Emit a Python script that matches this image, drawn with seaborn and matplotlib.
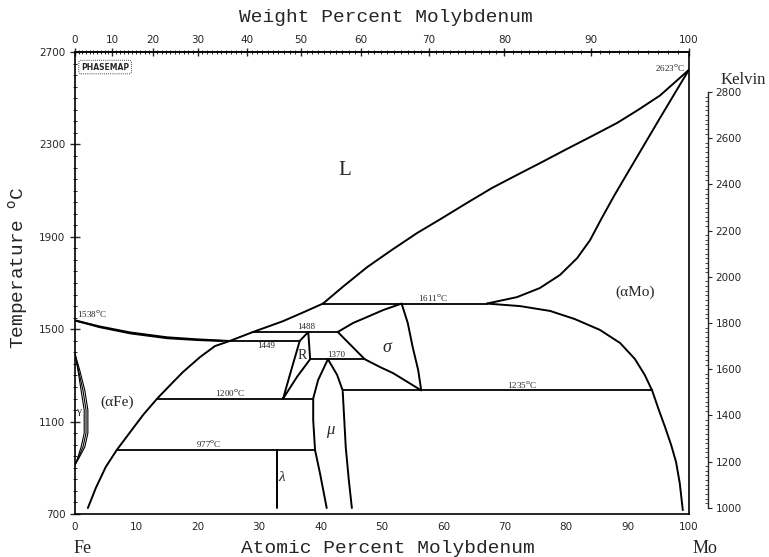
import numpy as np
import matplotlib
matplotlib.use("Agg")
import matplotlib.pyplot as plt
from matplotlib.ticker import MultipleLocator, FixedLocator
import seaborn as sns

# Fe-Mo phase diagram (atomic % Mo, deg C)

# (aFe) boundary that runs on into the liquidus up to 1611
afe_at = [2.1, 3.4, 5.0, 6.8, 9.0, 11.1, 13.4, 15.5, 17.6, 20.4, 22.8, 25.2,
          29.0, 33.9, 37.1, 40.4]
afe_t = [726, 813, 903, 977, 1055, 1129, 1200, 1258, 1315, 1380, 1427, 1449,
         1488, 1535, 1572, 1611]

# liquidus from 1611 to Mo melting point
liq_at = [40.4, 43.6, 47.6, 51.6, 55.7, 59.8, 63.8, 67.9, 72.0, 76.1, 80.1,
          84.2, 88.3, 91.7, 95.3, 100.0]
liq_t = [1611, 1683, 1769, 1843, 1916, 1981, 2046, 2111, 2168, 2224, 2280,
         2336, 2393, 2449, 2512, 2623]

# (aMo) solidus
sol_at = [67.1, 72.0, 75.7, 79.0, 81.8, 83.9, 85.8, 87.8, 89.9, 92.5, 95.3,
          98.0, 100.0]
sol_t = [1611, 1639, 1678, 1735, 1808, 1886, 1981, 2077, 2172, 2289, 2415,
         2535, 2623]

# (aMo) solvus
mo_at = [67.1, 72.5, 77.4, 81.4, 85.5, 88.8, 91.2, 92.8, 94.0, 95.1, 96.1,
         97.1, 97.9, 98.5, 99.0]
mo_t = [1611, 1600, 1579, 1544, 1497, 1440, 1371, 1302, 1235, 1150, 1077,
        999, 925, 834, 717]

# Fe side liquidus / solidus from 1538
feliq_at = [0.0, 4.0, 9.0, 15.0, 20.0, 25.2]
feliq_t = [1538, 1512, 1486, 1465, 1456, 1449]
fesol_at = [0.0, 4.0, 9.0, 15.0, 20.0, 24.0]
fesol_t = [1538, 1509, 1482, 1461, 1453, 1449]

# isotherms
iso_t = [1611, 1488, 1449, 1370, 1235, 1200, 977]
iso_from = [40.4, 29.0, 25.2, 38.3, 43.6, 13.4, 6.8]
iso_to = [67.1, 42.8, 36.6, 47.2, 94.0, 38.8, 39.1]

# R phase
r_at = [33.9, 35.3, 36.6, 38.0, 38.3, 36.2, 33.9]
r_t = [1200, 1330, 1449, 1488, 1370, 1295, 1200]

# sigma phase
sig_at = [42.8, 45.3, 47.6, 50.2, 53.2, 54.2, 55.0, 55.9, 56.4, 54.2, 51.8,
          49.7, 47.2, 42.8]
sig_t = [1488, 1527, 1553, 1583, 1611, 1527, 1423, 1323, 1235, 1271, 1310,
         1336, 1370, 1488]

# mu phase
mu_at = [41.0, 39.9, 39.1, 38.8, 38.8, 39.6, 41.2, 42.7, 43.6, 44.1, 44.6,
         45.1]
mu_t = [726, 877, 977, 1107, 1200, 1280, 1370, 1302, 1235, 990, 847, 726]

# lambda phase
lam_at = [32.9, 32.9]
lam_t = [977, 726]

# gamma loop (three lines)
gam_t = [1394, 1320, 1235, 1150, 1050, 990, 940, 912]
gam1_at = [0.0, 0.8, 1.6, 2.1, 2.1, 1.6, 0.6, 0.0]
gam2_at = [0.0, 0.6, 1.3, 1.8, 1.8, 1.3, 0.5, 0.0]
gam3_at = [0.0, 0.5, 1.0, 1.5, 1.5, 1.0, 0.4, 0.0]

temp_ticks = [700, 1100, 1500, 1900, 2300, 2700]
at_ticks = [0, 10, 20, 30, 40, 50, 60, 70, 80, 90, 100]
wt_ticks = [0, 10, 20, 30, 40, 50, 60, 70, 80, 90, 100]
kelvin_ticks = [1000, 1200, 1400, 1600, 1800, 2000, 2200, 2400, 2600, 2800]

M_FE = 55.845
M_MO = 95.95


def at_to_wt(a):
    a = np.asarray(a, dtype=float)
    return 100 * a * M_MO / (a * M_MO + (100 - a) * M_FE)


def wt_to_at(w):
    w = np.asarray(w, dtype=float)
    return 100 * (w / M_MO) / (w / M_MO + (100 - w) / M_FE)


sns.set_style("white")
plt.rcParams["font.family"] = ["DejaVu Sans"]
plt.rcParams["axes.linewidth"] = 1.2

fig = plt.figure(figsize=(7.69, 5.57), dpi=100)
ax = fig.add_axes([0.0975, 0.0772, 0.7984, 0.8294])

lines = [(afe_at, afe_t), (liq_at, liq_t), (sol_at, sol_t), (mo_at, mo_t),
         (feliq_at, feliq_t), (fesol_at, fesol_t), (r_at, r_t),
         (sig_at, sig_t), (mu_at, mu_t), (lam_at, lam_t)]
for xs, ys in lines:
    sns.lineplot(x=xs, y=ys, sort=False, estimator=None, color="black",
                 linewidth=1.4, ax=ax)

for t, a0, a1 in zip(iso_t, iso_from, iso_to):
    sns.lineplot(x=[a0, a1], y=[t, t], sort=False, estimator=None,
                 color="black", linewidth=1.3, ax=ax)

for g in [gam1_at, gam2_at, gam3_at]:
    sns.lineplot(x=g, y=gam_t, sort=False, estimator=None, color="black",
                 linewidth=0.8, ax=ax)

ax.set_xlim(0, 100)
ax.set_ylim(700, 2700)
ax.set_xticks(at_ticks)
ax.xaxis.set_minor_locator(MultipleLocator(1))
ax.set_yticks(temp_ticks)
ax.yaxis.set_minor_locator(MultipleLocator(50))
ax.tick_params(axis="x", which="major", direction="inout", length=6,
               width=1, labelsize=7.5, pad=3, top=False)
ax.tick_params(axis="x", which="minor", direction="inout", length=3,
               width=0.7, top=False)
ax.tick_params(axis="y", which="major", direction="inout", length=7,
               width=1, labelsize=7.5, right=True)
ax.tick_params(axis="y", which="minor", direction="inout", length=3,
               width=0.7, right=True)
for sp in ax.spines.values():
    sp.set_color("black")

# weight percent on top
sec = ax.secondary_xaxis("top", functions=(at_to_wt, wt_to_at))
sec.set_xticks(wt_ticks)
sec.xaxis.set_minor_locator(FixedLocator(np.arange(0, 101, 1)))
sec.tick_params(which="major", direction="inout", length=6, width=1,
                labelsize=7.5, pad=2)
sec.tick_params(which="minor", direction="inout", length=3, width=0.7)

# Kelvin scale
axk = ax.twinx()
axk.set_ylim(700 + 273.15, 2700 + 273.15)
for side in ["left", "top", "bottom"]:
    axk.spines[side].set_visible(False)
axk.spines["right"].set_position(("outward", 14))
axk.spines["right"].set_bounds(1000, 2800)
axk.spines["right"].set_linewidth(1.0)
axk.set_yticks(kelvin_ticks)
axk.yaxis.set_minor_locator(FixedLocator(np.arange(1000, 2801, 20)))
axk.tick_params(axis="y", which="major", direction="out", length=3,
                width=0.8, labelsize=7.5, pad=2)
axk.tick_params(axis="y", which="minor", direction="in", length=2.5,
                width=0.6)
axk.grid(False)

serif = "Liberation Serif"
mono = "Liberation Mono"
deg = r"$^{\mathrm{o}}$C"

# phase labels
ax.text(44.0, 2189, "L", fontsize=15, family=serif, ha="center", va="center")
ax.text(91.2, 1661, "(αMo)", fontsize=11, family=serif,
        ha="center", va="center")
ax.text(6.8, 1185, "(αFe)", fontsize=11, family=serif,
        ha="center", va="center")
ax.text(50.8, 1419, "σ", fontsize=13, family=serif, style="italic",
        ha="center", va="center")
ax.text(37.0, 1388, "R", fontsize=10, family=serif, ha="center", va="center")
ax.text(41.5, 1064, "μ", fontsize=12, family=serif, style="italic",
        ha="center", va="center")
ax.text(33.7, 860, "λ", fontsize=11, family=serif, style="italic",
        ha="center", va="center")
ax.text(0.5, 1142, "γ", fontsize=8, family=serif, ha="center", va="center")

# temperature annotations
ax.text(0.3, 1545, "1538" + deg, fontsize=6.5, family=serif, ha="left",
        va="bottom")
ax.text(99.3, 2632, "2623" + deg, fontsize=6.5, family=serif, ha="right",
        va="center")
ax.text(58.3, 1614, "1611" + deg, fontsize=6.5, family=serif, ha="center",
        va="bottom")
ax.text(37.6, 1491, "1488", fontsize=6.5, family=serif, ha="center",
        va="bottom")
ax.text(31.1, 1427, "1449", fontsize=6.5, family=serif, ha="center",
        va="center")
ax.text(42.5, 1373, "1370", fontsize=6.5, family=serif, ha="center",
        va="bottom")
ax.text(72.8, 1238, "1235" + deg, fontsize=6.5, family=serif, ha="center",
        va="bottom")
ax.text(25.2, 1203, "1200" + deg, fontsize=6.5, family=serif, ha="center",
        va="bottom")
ax.text(21.7, 980, "977" + deg, fontsize=6.5, family=serif, ha="center",
        va="bottom")

# logo
ax.text(1.0, 2635, "PHASEMAP", fontsize=5.5, fontweight="bold", ha="left",
        va="center",
        bbox=dict(boxstyle="round,pad=0.3", fc="white", ec="black",
                  lw=0.6, ls=(0, (1, 1.5))))

# axis titles
fig.text(0.502, 0.968, "Weight Percent Molybdenum", fontsize=14, family=mono,
         ha="center", va="center")
fig.text(0.505, 0.016, "Atomic Percent Molybdenum", fontsize=14, family=mono,
         ha="center", va="center")
fig.text(0.023, 0.52, "Temperature " + deg, fontsize=14, family=mono,
         rotation=90, ha="center", va="center")
fig.text(0.107, 0.016, "Fe", fontsize=13, family=serif, ha="center",
         va="center")
fig.text(0.917, 0.016, "Mo", fontsize=13, family=serif, ha="center",
         va="center")
fig.text(0.966, 0.856, "Kelvin", fontsize=12, family=serif, ha="center",
         va="center")

fig.savefig("out.png", dpi=100)
